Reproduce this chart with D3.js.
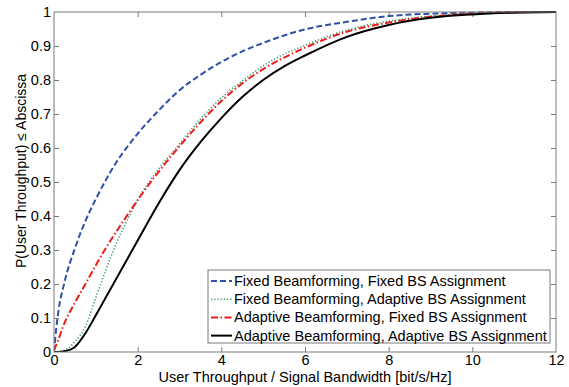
<!DOCTYPE html>
<html><head><meta charset="utf-8">
<script src="https://cdn.jsdelivr.net/npm/d3@7/dist/d3.min.js"></script>
<style>body{margin:0;background:#fff}svg{display:block}text{font-family:"Liberation Sans",Arial,sans-serif;fill:#000}</style>
</head><body>
<svg id="c" width="569" height="387"></svg>
<script>
const tGrid = [0,0.05,0.1,0.25,0.5,0.75,1,1.25,1.5,1.75,2,2.5,3,3.5,4,4.5,5,5.5,6,7,8,9,10,11,12];
const fixedFixed     = [0,0.065,0.115,0.205,0.305,0.385,0.45,0.508,0.56,0.603,0.642,0.71,0.77,0.815,0.853,0.884,0.909,0.931,0.949,0.971,0.988,0.995,0.998,1,1];
const fixedAdaptive  = [0,0.0005,0.001,0.005,0.03,0.075,0.16,0.245,0.322,0.388,0.447,0.538,0.612,0.685,0.748,0.797,0.842,0.876,0.902,0.947,0.973,0.988,0.996,0.999,1];
const adaptiveFixed  = [0.005,0.02,0.035,0.085,0.145,0.2,0.255,0.308,0.356,0.402,0.447,0.53,0.605,0.675,0.738,0.79,0.832,0.866,0.895,0.942,0.969,0.986,0.995,0.999,1];
const adaptiveAdaptive=[0,0,0,0.002,0.015,0.055,0.108,0.163,0.218,0.273,0.328,0.437,0.535,0.617,0.688,0.75,0.8,0.84,0.872,0.927,0.962,0.983,0.993,0.998,1];
const seriesNames = ["Fixed Beamforming, Fixed BS Assignment","Fixed Beamforming, Adaptive BS Assignment","Adaptive Beamforming, Fixed BS Assignment","Adaptive Beamforming, Adaptive BS Assignment"];
const xTicks = [0,2,4,6,8,10,12];
const yTicks = [0,0.1,0.2,0.3,0.4,0.5,0.6,0.7,0.8,0.9,1];

const series = [
  {name:seriesNames[0], values:fixedFixed, color:"#3050a8", dash:"6,3", w:2},
  {name:seriesNames[1], values:fixedAdaptive, color:"#3a9a68", dash:"1.2,2", w:1.6},
  {name:seriesNames[2], values:adaptiveFixed, color:"#ee1b1b", dash:"7,2.5,1.5,2.5", w:2},
  {name:seriesNames[3], values:adaptiveAdaptive, color:"#000", dash:null, w:2}
];

const L=54,R=556,T=12,B=352;
const FS=14.5;
const svg=d3.select("#c");
const x=d3.scaleLinear().domain([0,12]).range([L,R]);
const y=d3.scaleLinear().domain([0,1]).range([B,T]);
const ax="#7a7a7a";

const gx=svg.append("g").attr("transform",`translate(0,${B})`).call(d3.axisBottom(x).tickValues(xTicks).tickSize(-5).tickPadding(3).tickFormat(d3.format("d")));
const gxt=svg.append("g").attr("transform",`translate(0,${T})`).call(d3.axisTop(x).tickValues(xTicks).tickSize(-5).tickFormat(""));
const gy=svg.append("g").attr("transform",`translate(${L},0)`).call(d3.axisLeft(y).tickValues(yTicks).tickSize(-5).tickPadding(3).tickFormat(d=>d===0?"0":d===1?"1":d3.format(".1f")(d)));
const gyr=svg.append("g").attr("transform",`translate(${R},0)`).call(d3.axisRight(y).tickValues(yTicks).tickSize(-5).tickFormat(""));
[gx,gxt,gy,gyr].forEach(g=>{g.select(".domain").remove();g.selectAll("line").attr("stroke",ax);g.selectAll("text").attr("font-size",FS).attr("font-family","Liberation Sans, Arial, sans-serif").attr("fill","#000");});
gx.selectAll("line").filter(d=>d===0||d===12).remove();
gxt.selectAll("line").filter(d=>d===0||d===12).remove();
gy.selectAll("line").filter(d=>d===0||d===1).remove();
gyr.selectAll("line").filter(d=>d===0||d===1).remove();

svg.append("clipPath").attr("id","pc").append("rect").attr("x",L).attr("y",T-2).attr("width",R-L).attr("height",B-T+2);
const line=d3.line().x((d,i)=>x(tGrid[i])).y(d=>y(d)).curve(d3.curveMonotoneX);
const lg=svg.append("g").attr("clip-path","url(#pc)");
series.forEach(s=>{
  lg.append("path").attr("d",line(s.values)).attr("fill","none").attr("stroke",s.color).attr("stroke-width",s.w).attr("stroke-dasharray",s.dash);
});

svg.append("rect").attr("x",L).attr("y",T).attr("width",R-L).attr("height",B-T).attr("fill","none").attr("stroke",ax).attr("stroke-width",1);

// legend
const lgX=208,lgY=270,lgW=342,lgH=73;
svg.append("rect").attr("x",lgX).attr("y",lgY).attr("width",lgW).attr("height",lgH).attr("fill","#fff").attr("stroke",ax).attr("stroke-width",1);
series.forEach((s,i)=>{
  const yy=lgY+11+i*18.2;
  svg.append("line").attr("x1",211).attr("x2",232).attr("y1",yy).attr("y2",yy).attr("stroke",s.color).attr("stroke-width",s.w).attr("stroke-dasharray",s.dash);
  svg.append("text").attr("x",234).attr("y",yy+5).attr("font-size",FS).text(s.name);
});

svg.append("text").attr("x",305).attr("y",382).attr("text-anchor","middle").attr("font-size",FS).text("User Throughput / Signal Bandwidth [bit/s/Hz]");
svg.append("text").attr("transform","translate(26,171) rotate(-90)").attr("text-anchor","middle").attr("font-size",14).text("P(User Throughput) ≤ Abscissa");
</script>
</body></html>
